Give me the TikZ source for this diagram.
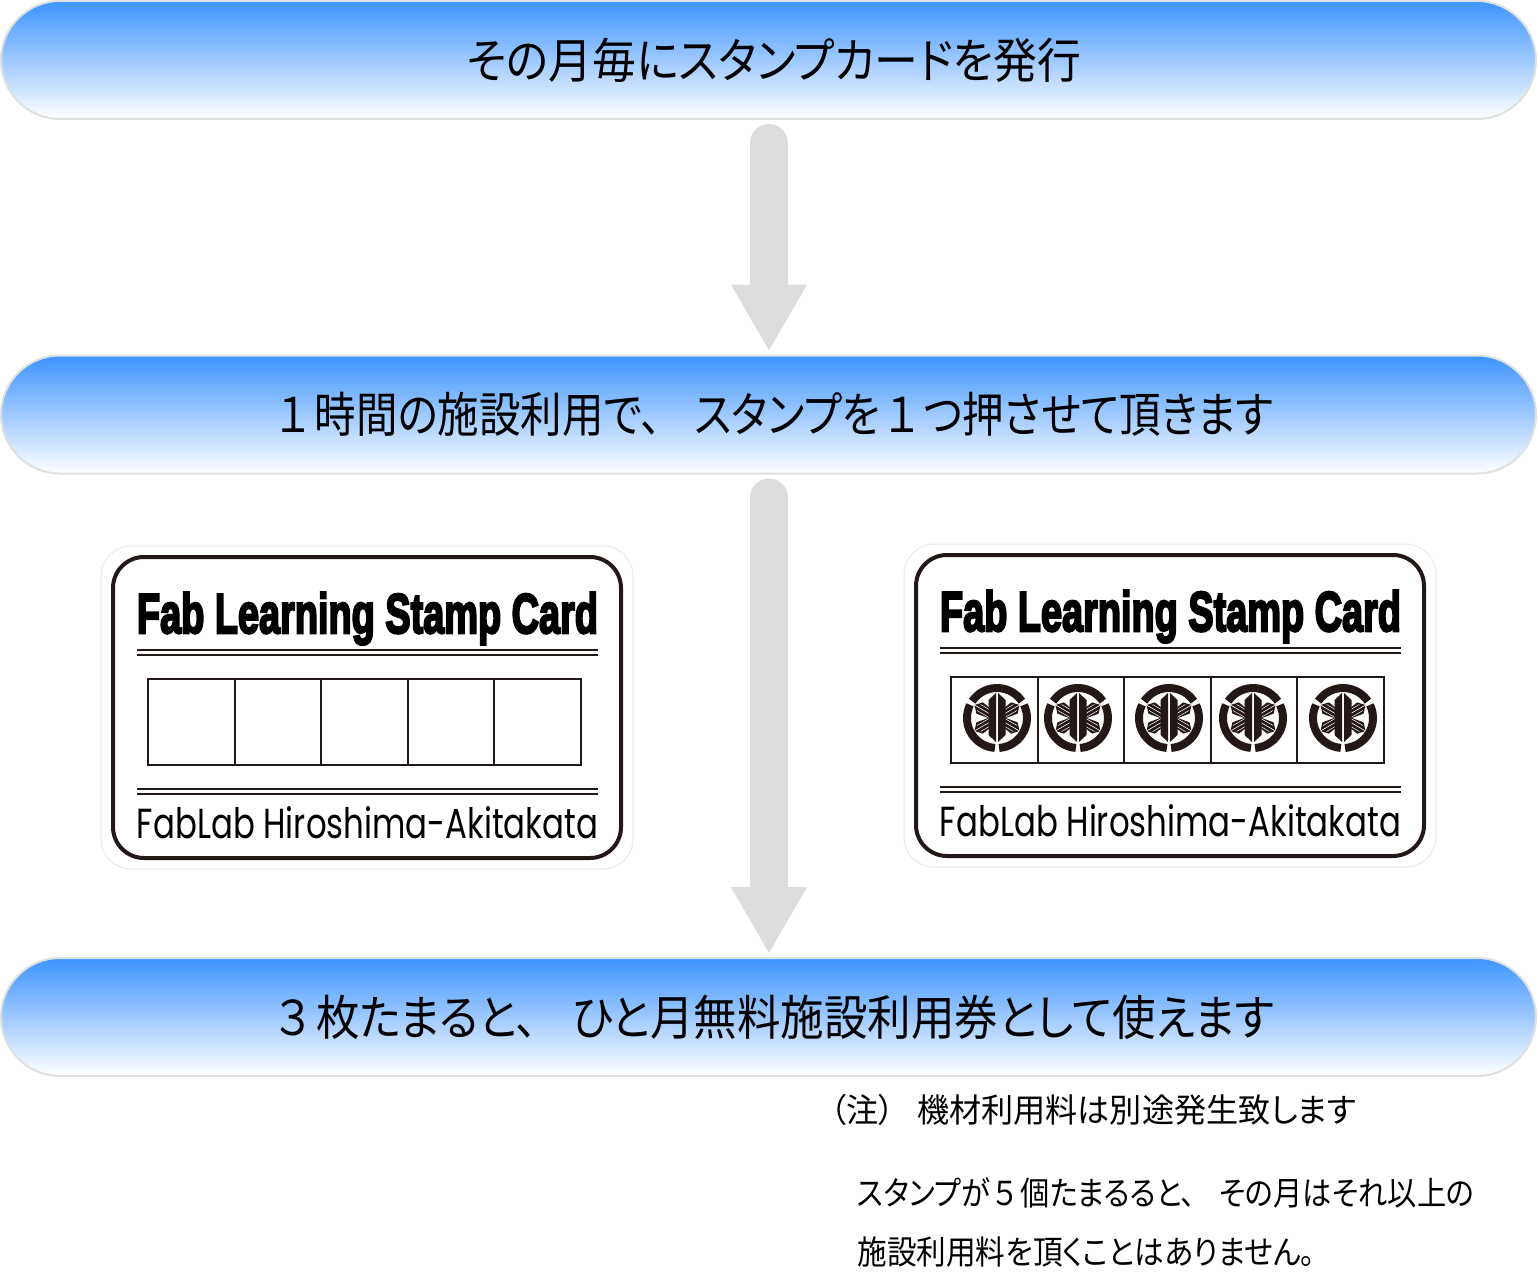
\documentclass[tikz,border=0pt]{standalone}
\usepackage{fontspec}
\usepackage{graphicx}
\usetikzlibrary{arrows.meta}
\setmainfont[RawFeature=+palt]{Noto Sans CJK JP}
\newfontfamily\fabfont[UprightFont=* Bold,FakeBold=4.5]{Liberation Sans}
\newfontfamily\labfont{Poppins}
\definecolor{cardink}{HTML}{231815}
\definecolor{barblue}{HTML}{3D94FF}
\definecolor{barline}{HTML}{DFE0E0}
\definecolor{arrowgray}{HTML}{DCDDDD}
\tikzstyle{stagebar}=[rectangle,
    rounded corners=29.5pt,
    minimum width=767.5pt,
    minimum height=59pt,
    inner sep=0pt,
    draw=barline,
    line width=1pt,
    top color=barblue,
    bottom color=white,
    text=black,
    font=\fontsize{24}{28}\selectfont]
\tikzstyle{bigarrow}=[draw=arrowgray,
    line width=19pt,
    line cap=round,
    -{Triangle[length=33.5pt,width=35.5pt]}]
\tikzstyle{note}=[anchor=west,inner sep=0pt,font=\fontsize{16.5}{20}\selectfont]
\tikzstyle{cardedge}=[draw=cardink,line width=2pt,rounded corners=15.5pt]
\tikzstyle{cardline}=[draw=cardink,line width=0.8pt]
\tikzstyle{cardrule}=[draw=cardink,line width=1pt]
% squeeze a line of text to a given width, its height stays
\newcommand{\fitline}[2]{\resizebox{#1}{\height}{#2}}
\newcommand{\gapw}{\hspace{.8em}}
\newcommand{\gapn}{\hspace{.15em}}
% one stamp card, origin at the top left of its pale outline
\newcommand{\stampcard}[1]{
    \begin{scope}[shift={#1}]
        \draw[draw=barline!70,line width=0.5pt,rounded corners=15pt] (0,0) rectangle (532,323);
        \draw[cardedge,fill=white] (12,11) rectangle (520,312);
        \node[inner sep=0pt,anchor=base] at (266.5,87) {\fitline{230.5pt}{\fabfont\fontsize{28}{30}\selectfont Fab Learning Stamp Card}};
        \foreach \y in {104,109,243,248}
            \draw[cardline] (36,\y) -- (497,\y);
        \draw[cardrule] (47,133) rectangle (480,219);
        \foreach \x in {133.6,220.2,306.8,393.4}
            \draw[cardrule] (\x,133) -- (\x,219);
        \node[inner sep=0pt,anchor=base] at (266.5,292) {\fitline{230.5pt}{\labfont\fontsize{21}{24}\selectfont FabLab Hiroshima-Akitakata}};
    \end{scope}
}
% round crest: broken ring and six feathers
\newcommand{\stampmark}[1]{
    \begin{scope}[shift={#1}]
        \foreach \a in {90,210,330}
            \draw[draw=cardink,line width=4pt] (\a+4:30) arc[start angle=\a+4,end angle=\a+116,radius=30];
        \foreach \a in {30,150,210,330} {
            \begin{scope}[rotate=\a]
                \fill[cardink] (5,-4) -- (20,-6.5) -- (26,0) -- (20,6.5) -- (5,4) -- cycle;
                \draw[draw=white,line width=0.3pt] (8,0) -- (26,0);
                \foreach \s in {-3.5,3.5}
                    \draw[draw=white,line width=0.25pt] (7,\s) -- (21,\s);
            \end{scope}
        }
        \fill[cardink] (-1,-25) -- (-8.5,-18) -- (-8.5,17) -- (-1,24) -- cycle;
        \fill[cardink] (1,-25) -- (8.5,-18) -- (8.5,17) -- (1,24) -- cycle;
    \end{scope}
}

\begin{document}
\begin{tikzpicture}[x=0.5pt,y=-0.5pt]
    \useasboundingbox (0,0) rectangle (1538,1279);
    \node (first) [stagebar] at (768.5,60) {\hspace*{5.5pt}\fitline{307pt}{その月毎にスタンプカードを発行}};
    \node (second) [stagebar] at (768.5,414.5) {\hspace*{6.5pt}\fitline{498pt}{１\gapn 時間の施設利用で、\gapw スタンプを\gapn １\gapn つ押させて頂きます}};
    \node (third) [stagebar] at (768.5,1017) {\hspace*{7pt}\fitline{499pt}{３\gapn 枚たまると、\gapw ひと月無料施設利用券として使えます}};
    \draw[bigarrow,shorten <=11.5pt,shorten >=1.5pt] (first.south -| 769,0) -- (second.north -| 769,0);
    \draw[bigarrow,shorten <=11.5pt,shorten >=1.5pt] (second.south -| 769,0) -- (third.north -| 769,0);
    \stampcard{(101,546)}
    \stampcard{(904,544)}
    \stampmark{(997,718)}
    \stampmark{(1078,718)}
    \stampmark{(1169,718)}
    \stampmark{(1253,718)}
    \stampmark{(1343,718)}
    \node (remark) [note] at (830,1110) {\fitline{263pt}{（注）\hspace{.7em}機材利用料は別途発生致します}};
    \node (limit) [note] at (857,1193) {\fitline{308.5pt}{スタンプが\gapn ５\gapn 個たまるると、\gapw その月はそれ以上の}};
    \node (fee) [note] at (857,1252) {\fitline{229pt}{施設利用料を頂くことはありません。}};
\end{tikzpicture}
\end{document}
